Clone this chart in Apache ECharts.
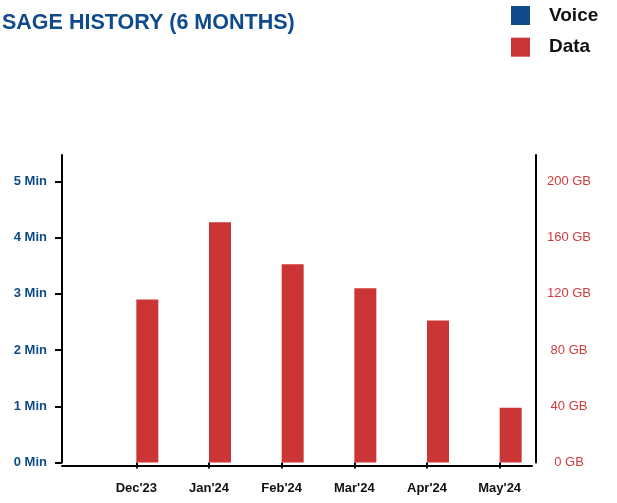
<!DOCTYPE html>
<html>
<head>
<meta charset="utf-8">
<style>
html,body{margin:0;padding:0;background:#fff;}
#chart{width:617px;height:503px;}
</style>
<script src="https://cdn.jsdelivr.net/npm/echarts@6/dist/echarts.min.js"></script>
</head>
<body>
<div id="chart"></div>
<script>
const titleText = "SAGE HISTORY (6 MONTHS)";
const months = ["Dec'23", "Jan'24", "Feb'24", "Mar'24", "Apr'24", "May'24"];
const voiceMinutes = [0, 0, 0, 0, 0, 0];
const dataGB = [116, 171, 141, 124, 101, 39];
const minTicks = [0, 1, 2, 3, 4, 5];
const gbTicks = [0, 40, 80, 120, 160, 200];

const FONT = "'Liberation Sans', Arial, Helvetica, sans-serif";
const BLUE = '#0f4a8a';
const RED = '#cc3535';

const chart = echarts.init(document.getElementById('chart'), null, {renderer: 'canvas'});
chart.setOption({
  animation: false,
  backgroundColor: '#fff',
  textStyle: {fontFamily: FONT},
  title: {
    text: titleText,
    left: 2,
    top: 12,
    padding: 0,
    textStyle: {fontFamily: FONT, fontSize: 21.5, fontWeight: 'bold', color: BLUE}
  },
  legend: {
    data: ['Voice', 'Data'],
    orient: 'vertical',
    left: 511,
    top: 6,
    padding: 0,
    itemWidth: 19,
    itemHeight: 19,
    itemGap: 12.7,
    icon: 'rect',
    textStyle: {fontFamily: FONT, fontSize: 19, fontWeight: 'bold', color: '#111', lineHeight: 19, padding: [0, 0, 0, 14]}
  },
  grid: [
    {left: 100, right: 81, top: 155, bottom: 40.5},
    {left: 62, right: 85, top: 155, bottom: 37.5}
  ],
  xAxis: [
    {
      type: 'category',
      gridIndex: 0,
      data: months,
      offset: 3,
      axisLine: {show: false},
      axisTick: {show: true, alignWithLabel: true, length: 6, lineStyle: {color: '#000', width: 2}},
      axisLabel: {margin: 16, fontFamily: FONT, fontSize: 13, fontWeight: 'bold', color: '#111'},
      splitLine: {show: false}
    },
    {
      type: 'value',
      gridIndex: 1,
      min: 0,
      max: 1,
      axisLine: {show: true, lineStyle: {color: '#000', width: 2}},
      axisTick: {show: false},
      axisLabel: {show: false},
      splitLine: {show: false}
    }
  ],
  yAxis: [
    {
      type: 'value',
      gridIndex: 0,
      position: 'left',
      offset: 38,
      min: 0,
      max: 5.47,
      interval: 1,
      axisLine: {show: true, lineStyle: {color: '#000', width: 2}},
      axisTick: {show: true, length: 7, lineStyle: {color: '#000', width: 2}, customValues: minTicks},
      axisLabel: {
        margin: 15,
        fontFamily: FONT, fontSize: 13, fontWeight: 'bold', color: BLUE,
        customValues: minTicks,
        formatter: v => v + ' Min'
      },
      splitLine: {show: false}
    },
    {
      type: 'value',
      gridIndex: 0,
      position: 'right',
      min: 0,
      max: 218.8,
      interval: 40,
      axisLine: {show: true, lineStyle: {color: '#000', width: 2}},
      axisTick: {show: false},
      axisLabel: {
        margin: 33,
        align: 'center',
        fontFamily: FONT, fontSize: 13, color: '#d23c3c',
        customValues: gbTicks,
        formatter: v => v + ' GB'
      },
      splitLine: {show: false}
    },
    {
      type: 'value',
      gridIndex: 1,
      show: false
    }
  ],
  series: [
    {
      name: 'Voice',
      type: 'bar',
      xAxisIndex: 0,
      yAxisIndex: 0,
      data: voiceMinutes,
      barWidth: 22,
      barGap: '0%',
      itemStyle: {color: BLUE}
    },
    {
      name: 'Data',
      type: 'bar',
      xAxisIndex: 0,
      yAxisIndex: 1,
      data: dataGB,
      barWidth: 22,
      barGap: '0%',
      itemStyle: {color: RED}
    }
  ]
});
</script>
</body>
</html>
